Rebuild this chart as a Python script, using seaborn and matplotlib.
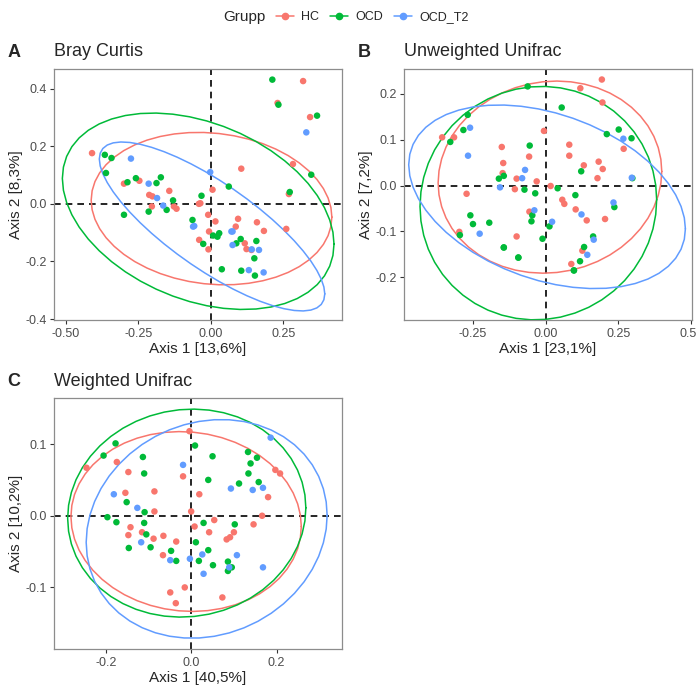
import numpy as np
import pandas as pd
import matplotlib
matplotlib.use('Agg')
import matplotlib.pyplot as plt
from matplotlib.lines import Line2D
import seaborn as sns

groups = ['HC', 'OCD', 'OCD_T2']
colors = ['#F8766D', '#00BA38', '#619CFF']

# Bray Curtis
bc_hc_x = [-0.409, 0.318, 0.230, 0.342, 0.283, 0.105, 0.269, 0.260, -0.299, -0.246, -0.143, -0.212, -0.201, -0.203,
           -0.127, -0.118, -0.041, -0.036, 0.006, -0.009, 0.016, -0.006, -0.040, -0.008, 0.086, 0.094, 0.159, 0.183,
           0.117, 0.123, 0.140]
bc_hc_y = [0.176, 0.426, 0.350, 0.301, 0.138, 0.122, 0.034, -0.087, 0.070, 0.080, 0.045, 0.031, 0.026, -0.009,
           -0.009, -0.017, 0.000, 0.002, 0.049, -0.038, -0.061, -0.096, -0.125, -0.158, -0.079, -0.052, -0.064, -0.094,
           -0.137, -0.157, -0.160]
bc_ocd_x = [0.212, 0.233, 0.366, 0.346, 0.272, -0.365, -0.342, -0.361, -0.287, -0.258, -0.187, -0.172, -0.130, -0.152,
            -0.214, -0.299, -0.032, 0.062, -0.063, -0.026, 0.008, 0.023, 0.029, 0.038, 0.105, 0.088, 0.103, 0.157,
            0.150, 0.152]
bc_ocd_y = [0.431, 0.344, 0.306, 0.101, 0.041, 0.170, 0.159, 0.107, 0.075, 0.089, 0.072, 0.092, 0.012, -0.021,
            -0.027, -0.038, 0.028, 0.060, -0.056, -0.139, -0.110, -0.114, -0.102, -0.227, -0.232, -0.137, -0.122, -0.129,
            -0.189, -0.249]
bc_t2_x = [-0.275, -0.002, -0.214, -0.185, -0.164, -0.061, -0.057, 0.071, 0.075, 0.075, 0.141, 0.166, 0.131, 0.182, 0.329]
bc_t2_y = [0.157, 0.110, 0.070, 0.020, -0.006, -0.079, -0.077, -0.096, -0.096, -0.143, -0.158, -0.160, -0.230, -0.238, 0.248]

# Unweighted Unifrac
uu_hc_x = [-0.356, -0.315, 0.193, 0.119, 0.195, -0.006, -0.151, -0.146, -0.148, -0.057, -0.100, -0.106, -0.031, 0.017,
           0.081, 0.081, 0.131, 0.182, 0.196, 0.178, 0.057, 0.064, 0.103, 0.141, 0.268, 0.204, -0.272, -0.297, -0.100,
           -0.056, 0.126, 0.088]
uu_hc_y = [0.105, 0.105, 0.231, 0.212, 0.181, 0.119, 0.084, 0.049, 0.027, 0.063, 0.015, -0.008, 0.009, -0.001,
           0.089, 0.065, 0.044, 0.052, 0.036, 0.016, -0.031, -0.040, -0.052, -0.076, 0.080, -0.073, -0.018, -0.101, -0.111,
           -0.057, -0.142, -0.171]
# a few OCD samples sit on top of each other in the low part of this panel
uu_ocd_x = [-0.062, 0.055, -0.283, -0.328, -0.268, -0.055, -0.161, -0.144, -0.073, -0.036, 0.041, 0.122, 0.102, 0.210,
            0.251, 0.295, 0.236, -0.259, -0.250, -0.194, -0.046, -0.049, -0.144, -0.094, -0.011, 0.013, 0.132, 0.163,
            0.118, 0.097, -0.295, 0.298, 0.097, -0.094, -0.144]
uu_ocd_y = [0.216, 0.170, 0.121, 0.095, 0.154, 0.087, 0.015, 0.021, -0.009, -0.017, -0.006, 0.031, -0.021, 0.112,
            0.122, 0.103, -0.047, -0.065, -0.084, -0.081, -0.065, -0.078, -0.135, -0.157, -0.116, -0.089, -0.134, -0.111,
            -0.165, -0.185, -0.108, 0.016, -0.185, -0.157, -0.135]
uu_t2_x = [-0.260, -0.267, -0.071, -0.081, -0.157, -0.039, 0.022, 0.123, 0.233, 0.267, 0.296, 0.165, 0.143, -0.227]
uu_t2_y = [0.126, 0.065, 0.034, 0.016, -0.004, -0.054, -0.079, -0.063, -0.037, 0.102, 0.017, -0.118, -0.151, -0.105]

# Weighted Unifrac
wu_hc_x = [-0.245, -0.174, -0.147, -0.154, -0.086, -0.086, -0.004, -0.019, 0.019, 0.000, 0.008, 0.054, 0.042, -0.142,
           -0.147, -0.115, -0.088, -0.065, -0.035, -0.066, -0.049, -0.036, -0.015, 0.073, 0.083, 0.091, 0.100, 0.146,
           0.166, 0.180, 0.197, 0.208]
wu_hc_y = [0.067, 0.075, 0.061, 0.032, 0.034, 0.006, 0.118, 0.055, 0.030, 0.006, -0.015, -0.006, -0.023, -0.016,
           -0.027, -0.023, -0.032, -0.028, -0.036, -0.055, -0.107, -0.122, -0.100, -0.114, -0.033, -0.030, -0.023, -0.012,
           0.000, 0.026, 0.064, 0.059]
wu_ocd_x = [-0.177, -0.205, -0.113, -0.110, -0.151, -0.109, -0.196, -0.175, -0.110, -0.105, -0.146, -0.095, -0.047,
            -0.035, 0.009, 0.050, 0.040, 0.112, 0.133, 0.154, 0.139, 0.134, 0.158, 0.029, 0.102, 0.011, 0.018, 0.040,
            0.051, 0.086, 0.095, 0.086]
wu_ocd_y = [0.101, 0.084, 0.082, 0.059, 0.019, 0.005, -0.002, -0.009, -0.010, -0.026, -0.045, -0.044, -0.049, -0.063,
            0.098, 0.083, 0.050, 0.045, 0.089, 0.081, 0.073, 0.059, 0.047, -0.010, -0.012, -0.037, -0.063, -0.048,
            -0.069, -0.064, -0.072, -0.077]
wu_t2_x = [-0.181, -0.126, -0.117, -0.019, 0.093, 0.144, 0.168, 0.186, -0.049, -0.003, 0.026, 0.029, 0.107, 0.089, 0.168]
wu_t2_y = [0.030, 0.011, -0.037, 0.071, 0.038, 0.036, 0.039, 0.109, -0.062, -0.060, -0.054, -0.081, -0.055, -0.072, -0.072]


def make_df(hx, hy, ox, oy, tx, ty):
    return pd.DataFrame({
        'Axis.1': hx + ox + tx,
        'Axis.2': hy + oy + ty,
        'Grupp': ['HC'] * len(hx) + ['OCD'] * len(ox) + ['OCD_T2'] * len(tx),
    })


def cov_trob(x, nu=5, maxit=25, tol=0.01):
    # same as MASS::cov.trob, which ggplot's stat_ellipse uses
    n, p = x.shape
    w = np.ones(n)
    loc = x.mean(axis=0)
    for _ in range(maxit):
        w0 = w
        X = x - loc
        _, d, vt = np.linalg.svd(np.sqrt(w / w.sum())[:, None] * X, full_matrices=False)
        wX = X @ vt.T @ np.diag(1 / d)
        Q = (wX ** 2).sum(axis=1)
        w = (nu + p) / (nu + Q)
        loc = (w[:, None] * x).sum(axis=0) / w.sum()
        if np.all(np.abs(w - w0) < tol):
            break
    cov = (np.sqrt(w)[:, None] * X).T @ (np.sqrt(w)[:, None] * X) / n
    return loc, cov


def ellipse(x, y, level=0.95, segments=51):
    pts = np.column_stack([x, y])
    loc, cov = cov_trob(pts)
    dfd = len(x) - 1
    fq = dfd / 2 * ((1 - level) ** (-2 / dfd) - 1)  # qf(level, 2, dfd)
    radius = np.sqrt(2 * fq)
    t = np.linspace(0, 2 * np.pi, segments)
    circle = np.column_stack([np.cos(t), np.sin(t)])
    chol = np.linalg.cholesky(cov).T
    e = loc + radius * circle @ chol
    return e[:, 0], e[:, 1]


panels = [
    dict(df=make_df(bc_hc_x, bc_hc_y, bc_ocd_x, bc_ocd_y, bc_t2_x, bc_t2_y), title='Bray Curtis', tag='A',
         xlab='Axis 1 [13,6%]', ylab='Axis 2 [8,3%]', xlim=(-0.540, 0.452), ylim=(-0.403, 0.468),
         xticks=[-0.5, -0.25, 0, 0.25], xfmt='{:.2f}', yticks=[-0.4, -0.2, 0, 0.2, 0.4], yfmt='{:.1f}',
         pos=[0.0776, 0.5356, 0.4138, 0.3643]),
    dict(df=make_df(uu_hc_x, uu_hc_y, uu_ocd_x, uu_ocd_y, uu_t2_x, uu_t2_y), title='Unweighted Unifrac', tag='B',
         xlab='Axis 1 [23,1%]', ylab='Axis 2 [7,2%]', xlim=(-0.487, 0.503), ylim=(-0.293, 0.254),
         xticks=[-0.25, 0, 0.25, 0.5], xfmt='{:.2f}', yticks=[-0.2, -0.1, 0, 0.1, 0.2], yfmt='{:.1f}',
         pos=[0.5805, 0.5356, 0.4138, 0.3643]),
    dict(df=make_df(wu_hc_x, wu_hc_y, wu_ocd_x, wu_ocd_y, wu_t2_x, wu_t2_y), title='Weighted Unifrac', tag='C',
         xlab='Axis 1 [40,5%]', ylab='Axis 2 [10,2%]', xlim=(-0.321, 0.353), ylim=(-0.186, 0.164),
         xticks=[-0.2, 0, 0.2], xfmt='{:.1f}', yticks=[-0.1, 0, 0.1], yfmt='{:.1f}',
         pos=[0.0776, 0.0580, 0.4138, 0.3640]),
]

sns.set_theme(style='white')
plt.rcParams['font.family'] = ['Liberation Sans', 'DejaVu Sans']

fig = plt.figure(figsize=(6.96, 6.89), dpi=100)

for p in panels:
    ax = fig.add_axes(p['pos'])
    df = p['df']
    ax.axhline(0, color='black', ls='--', lw=1.2, dashes=(4, 3), zorder=1)
    ax.axvline(0, color='black', ls='--', lw=1.2, dashes=(4, 3), zorder=1)
    sns.scatterplot(data=df, x='Axis.1', y='Axis.2', hue='Grupp', hue_order=groups, palette=colors,
                    s=22, linewidth=0, legend=False, ax=ax, zorder=3)
    for g, c in zip(groups, colors):
        sub = df[df['Grupp'] == g]
        ex, ey = ellipse(sub['Axis.1'].values, sub['Axis.2'].values)
        ax.plot(ex, ey, color=c, lw=1.1, zorder=2)
    ax.set_xlim(p['xlim'])
    ax.set_ylim(p['ylim'])
    ax.set_xticks(p['xticks'])
    ax.set_xticklabels([p['xfmt'].format(v) for v in p['xticks']])
    ax.set_yticks(p['yticks'])
    ax.set_yticklabels([p['yfmt'].format(v) for v in p['yticks']])
    ax.tick_params(axis='both', length=3, width=0.8, color='#333333', labelcolor='#4D4D4D', labelsize=9,
                   direction='out', bottom=True, left=True)
    ax.tick_params(axis='x', pad=3)
    ax.tick_params(axis='y', pad=2)
    for sp in ax.spines.values():
        sp.set_color('#8C8C8C')
        sp.set_linewidth(0.9)
    ax.set_xlabel(p['xlab'], fontsize=11, labelpad=1)
    ax.set_ylabel(p['ylab'], fontsize=11, labelpad=2)
    ax.set_title(p['title'], loc='left', fontsize=13, pad=9)
    x0 = p['pos'][0]
    y1 = p['pos'][1] + p['pos'][3]
    fig.text(x0 - 0.067, y1 + 0.018, p['tag'], fontsize=13, fontweight='bold', va='baseline')

fig.text(223 / 696, 1 - 17 / 689, 'Grupp', fontsize=11, va='center', ha='left')
handles = [Line2D([], [], color=c, marker='o', markersize=4.5, lw=1.1) for c in colors]
fig.legend(handles, groups, loc='center left', bbox_to_anchor=(276 / 696, 1 - 17 / 689), ncol=3, frameon=False,
           fontsize=9, handlelength=1.4, handletextpad=0.6, columnspacing=0.9, borderpad=0, borderaxespad=0)

fig.savefig('out.png', dpi=100)
